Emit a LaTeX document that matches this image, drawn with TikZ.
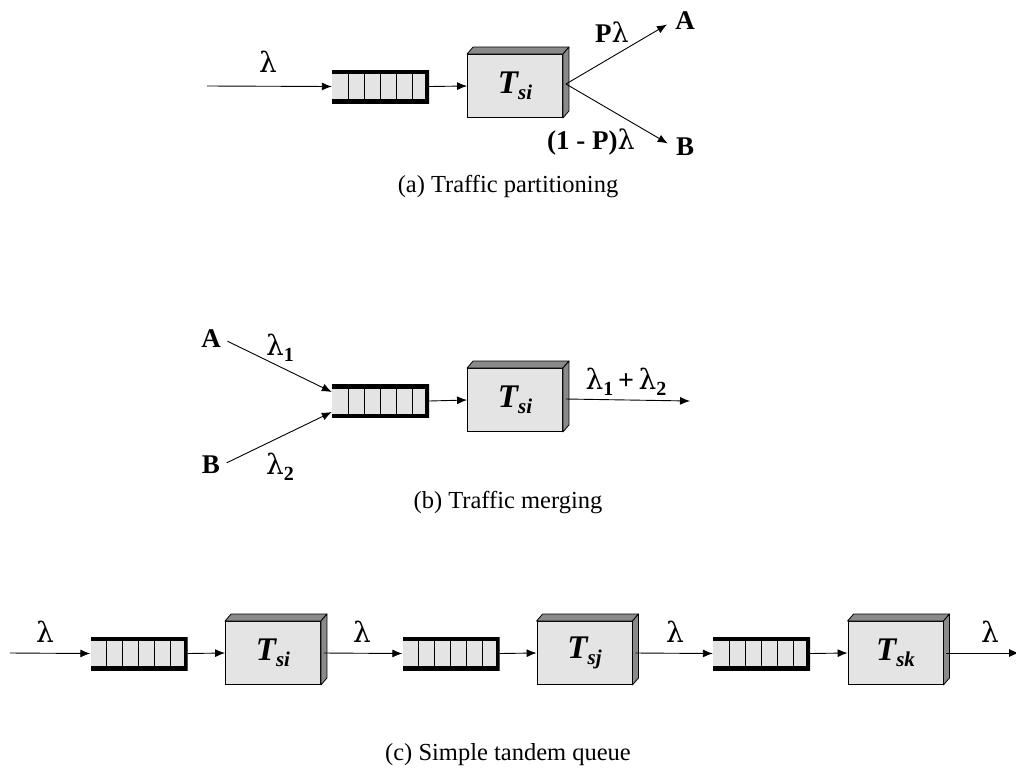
\documentclass[tikz,border=0pt]{standalone}
\usepackage{fontspec}
\setmainfont{Liberation Serif}
\newfontfamily\lamfont{DejaVu Serif}
\usetikzlibrary{arrows.meta,calc}
\definecolor{facegray}{HTML}{E4E4E4}
\definecolor{sidegray}{HTML}{8A8A8A}
\newcommand\lm{{\lamfont\mdseries λ}}
\newcommand\tsrv[1]{{\fontsize{33}{33}\selectfont\bfseries\itshape T\raisebox{-6pt}{\fontsize{21}{21}\selectfont #1}}}
\newcommand\lsub[1]{\lm\raisebox{-6pt}{\fontsize{20}{20}\selectfont\bfseries #1}}
\newcommand\srvfaces[1]{%
  \filldraw[side] (#1.north west) -- ([shift={(6pt,7pt)}]#1.north west) -- ([shift={(6pt,7pt)}]#1.north east) -- (#1.north east) -- cycle;
  \filldraw[side] (#1.north east) -- ([shift={(6pt,7pt)}]#1.north east) -- ([shift={(6pt,7pt)}]#1.south east) -- (#1.south east) -- cycle;
  \coordinate (#1o) at ([xshift=3pt,yshift=2pt]#1.east);}
\tikzset{
  conn/.style={line width=0.9pt,-{Latex[length=10pt,width=8pt]}},
  side/.style={fill=sidegray,draw=black,line width=0.8pt,line join=round},
  lab/.style={font=\fontsize{27}{27}\selectfont\bfseries,inner sep=2pt},
  lam/.style={font=\fontsize{28}{28}\selectfont,inner sep=1pt},
  captxt/.style={font=\fontsize{24.5}{24.5}\selectfont},
  server/.style={rectangle,draw=black,line width=0.9pt,fill=facegray,inner sep=0pt,minimum width=95pt,minimum height=63pt},
  queue/.style={rectangle,inner sep=0pt,minimum width=97pt,minimum height=33pt,fill=facegray,
    path picture={
      \foreach \d in {16,32,48,64,80}
        \draw[line width=1pt] ([xshift=\d pt]path picture bounding box.north west) -- ([xshift=\d pt]path picture bounding box.south west);
      \draw[line width=8pt,line join=miter] (path picture bounding box.north west) -- (path picture bounding box.north east) -- (path picture bounding box.south east) -- (path picture bounding box.south west);
    }},
}
\begin{document}
\begin{tikzpicture}[x=1pt,y=-1pt]
\useasboundingbox (0,0) rectangle (1016,769);
\clip (0,0) rectangle (1016,769);
% ---------- (a)
\coordinate (ain) at (207,86);
\node[queue] (qa) at (380.5,86.5) {};
\node[server] (sa) at (515,86) {\tsrv{si}};
\srvfaces{sa}
\node[lab] (aA) at (685,21) {A};
\node[lab] (aB) at (685,147) {B};
\node[lam] (la) at (268,62) {\lm};
\node[lab] (pl) at (612,32) {P\lm};
\node[lab] (qpl) at (591,142) {(1 - P)\lm};
\draw[conn] (ain) -- (qa.west);
\draw[conn] (qa.east) -- (sa.west);
\draw[conn,shorten >=7pt] (sao) -- (aA.west);
\draw[conn,shorten >=7pt] (sao) -- (aB.west);
\node[captxt] (capa) at (508,187) {(a) Traffic partitioning};
% ---------- (b)
\node[lab] (bA) at (211,339) {A};
\node[lab] (bB) at (211,465) {B};
\node[queue] (qb) at (380.5,401) {};
\node[server] (sb) at (515,400) {\tsrv{si}};
\srvfaces{sb}
\coordinate (bout) at (690,401);
\draw[conn,shorten <=5pt] (bA.east) -- ([yshift=9pt]qb.west);
\draw[conn,shorten <=5pt] (bB.east) -- ([yshift=-11pt]qb.west);
\draw[conn] (qb.east) -- (sb.west);
\draw[conn] ([yshift=-1pt]sbo) -- (bout);
\node[lam] (l1) at (280,348) {\lsub{1}};
\node[lam] (l2) at (280,467) {\lsub{2}};
\node[lam] (l12) at (626,382) {\lsub{1}\,{\bfseries +}\,\lsub{2}};
\node[captxt] (capb) at (508,503) {(b) Traffic merging};
% ---------- (c)
\coordinate (cin) at (10,653);
\node[queue] (qc1) at (139,653.5) {};
\node[server] (sc1) at (273,653) {\tsrv{si}};
\srvfaces{sc1}
\node[queue] (qc2) at (451,653.5) {};
\node[server] (sc2) at (584.5,653) {\tsrv{sj}};
\srvfaces{sc2}
\node[queue] (qc3) at (761.5,653.5) {};
\node[server] (sc3) at (895.5,653) {\tsrv{sk}};
\srvfaces{sc3}
\coordinate (cout) at (1019,653);
\draw[conn] (cin) -- (qc1.west);
\draw[conn] (qc1.east) -- (sc1.west);
\draw[conn] ([yshift=-2pt]sc1o) -- (qc2.west);
\draw[conn] (qc2.east) -- (sc2.west);
\draw[conn] ([yshift=-2pt]sc2o) -- (qc3.west);
\draw[conn] (qc3.east) -- (sc3.west);
\draw[conn] ([yshift=-2pt]sc3o) -- (cout);
\node[lam] (lc1) at (45,632) {\lm};
\node[lam] (lc2) at (362,632) {\lm};
\node[lam] (lc3) at (675,632) {\lm};
\node[lam] (lc4) at (990,632) {\lm};
\node[captxt] (capc) at (508,755) {(c) Simple tandem queue};
\end{tikzpicture}
\end{document}
